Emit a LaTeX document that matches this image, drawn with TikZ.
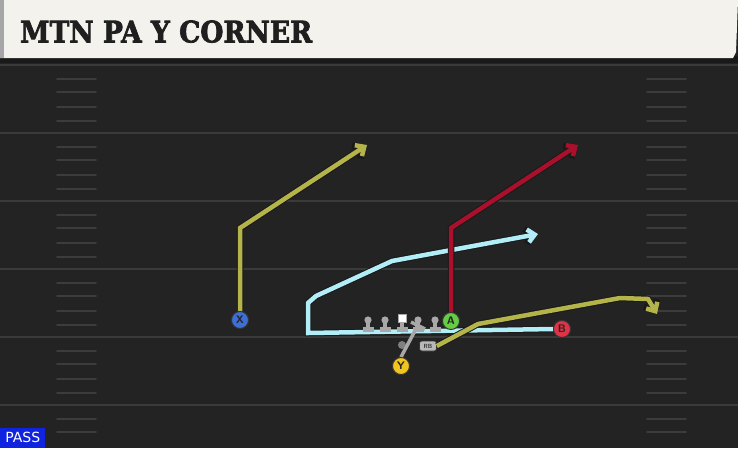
\documentclass[tikz,border=0pt]{standalone}
\usepackage{fontspec}
\setmainfont{DejaVu Sans}
\newfontfamily\titlefont[FakeBold=2.5]{DejaVu Serif}
\usetikzlibrary{arrows.meta}
\definecolor{fieldbg}{HTML}{232323}
\definecolor{headbg}{HTML}{F4F2EC}
\definecolor{yardc}{HTML}{3A3A3A}
\definecolor{hashc}{HTML}{3C3C3C}
\definecolor{olive}{HTML}{B4B44A}
\definecolor{redroute}{HTML}{A8102C}
\definecolor{blueroute}{HTML}{B2EEF8}
\definecolor{xcol}{HTML}{3D6FD6}
\definecolor{acol}{HTML}{66CC44}
\definecolor{bcol}{HTML}{E03348}
\definecolor{ycol}{HTML}{F2C41E}
\definecolor{linec}{HTML}{A8A8A8}
\definecolor{passc}{HTML}{1024E0}
\tikzset{
  player/.style={circle,draw=black!80,line width=0.9pt,minimum size=17pt,inner sep=0pt,font=\sffamily\bfseries\fontsize{11}{11}\selectfont,text=black!85},
  routeout/.style={draw=black!90,line width=6.5pt,line join=miter,-{Straight Barb[length=8pt,width=15pt]}},
  routein/.style={line width=4.5pt,line join=miter,-{Straight Barb[length=7pt,width=13pt]}},
  yard/.style={draw=yardc,line width=2pt},
  hash/.style={draw=hashc,line width=1.6pt,line cap=round},
  lineman/.style={fill=linec,draw=none}
}
\begin{document}
\begin{tikzpicture}[x=1pt,y=-1pt]
\useasboundingbox (0,0) rectangle (738,448);
\fill[fieldbg] (0,0) rectangle (738,448);
% yard lines
\foreach \yy in {65,133,201,269,337,405}{
  \draw[yard] (0,\yy) -- (738,\yy);
}
% hash marks
\foreach \yy in {65,133,201,269,337,405}{
  \foreach \dd in {14,27,42,56}{
    \pgfmathsetmacro{\hy}{\yy+\dd}
    \ifdim\hy pt<446pt
      \draw[hash] (57,\hy) -- (96,\hy);
      \draw[hash] (647,\hy) -- (686,\hy);
    \fi
  }
}
% header
\fill[black!90] (0,56) rectangle (738,63);
\fill[headbg] (0,0) -- (738,0) -- (736,52) -- (733,58) -- (0,58) -- cycle;
\fill[black!35] (0,0) rectangle (4,58);
\node[anchor=south west,inner sep=0pt,text=black!88] (title) at (20,43)
  {\resizebox{292pt}{22pt}{\titlefont\bfseries MTN PA Y CORNER}};
% PASS label
\node[fill=passc,anchor=south west,minimum width=45pt,minimum height=20pt,inner sep=0pt,
  text=white,font=\fontsize{14}{14}\selectfont] (pass) at (0,448) {PASS};

% route bend coordinates
\coordinate (xb) at (240,228);
\coordinate (xe) at (367,145);
\coordinate (ab) at (451,228);
\coordinate (ae) at (578,145);
\coordinate (b1) at (308,333);
\coordinate (b1a) at (308,303);
\coordinate (b2) at (316,296);
\coordinate (b3) at (392,261);
\coordinate (be) at (538,234);
\coordinate (r1) at (478,324);
\coordinate (r2) at (620,298);
\coordinate (r3) at (648,299);
\coordinate (re) at (657,314);

% players
\node[player,fill=xcol] (X) at (240,320) {X};
\node[player,fill=acol] (A) at (451,321) {A};
\node[player,fill=bcol] (B) at (562,329) {B};
\node[player,fill=ycol] (Y) at (401,366) {Y};
\node[fill=linec!80,draw=black!80,line width=0.6pt,rounded corners=2.5pt,minimum width=17pt,minimum height=10pt,inner sep=0pt,
  font=\sffamily\bfseries\fontsize{6}{6}\selectfont,text=black!80] (RB) at (428,346) {RB};

% routes (outlines then colours)
\draw[routeout] (B.west) -- (b1) -- (b1a) -- (b2) -- (b3) -- (be);
\draw[routein,draw=blueroute] (B.west) -- (b1) -- (b1a) -- (b2) -- (b3) -- (be);
\draw[routeout] (X.north) -- (xb) -- (xe);
\draw[routein,draw=olive] (X.north) -- (xb) -- (xe);
\draw[routeout] (A.north) -- (ab) -- (ae);
\draw[routein,draw=redroute] (A.north) -- (ab) -- (ae);
\draw[routeout] (RB.east) -- (r1) -- (r2) -- (r3) -- (re);
\draw[routein,draw=olive] (RB.east) -- (r1) -- (r2) -- (r3) -- (re);

% offensive line
\foreach \lx/\nm in {368/l1,385/l2,418/l4,435/l5}{
  \fill[lineman] (\lx-5.5,327) rectangle (\lx+5.5,332);
  \fill[lineman] (\lx-1.8,320) rectangle (\lx+1.8,328);
  \fill[lineman] (\lx,320) circle (3.6pt);
  \coordinate (\nm) at (\lx,320);
}
\fill[lineman] (402-5.5,327) rectangle (402+5.5,332);
\fill[lineman] (402-1.8,318) rectangle (402+1.8,328);
\node[fill=white,draw=linec,line width=0.6pt,minimum size=8pt,inner sep=0pt] (C) at (402,318) {};
% QB dot
\node[circle,fill=black!50,minimum size=8pt,inner sep=0pt] (QB) at (402,345) {};

% Y block
\coordinate (yblk) at (418,325);
\draw[draw=linec,line width=3.5pt] (Y.north) -- (yblk);
\draw[draw=linec,line width=3.5pt] (411,322) -- (425,329);
% redraw players on top
\node[player,fill=xcol] at (240,320) {X};
\node[player,fill=acol] at (451,321) {A};
\node[player,fill=bcol] at (562,329) {B};
\node[player,fill=ycol] at (401,366) {Y};
\end{tikzpicture}
\end{document}
